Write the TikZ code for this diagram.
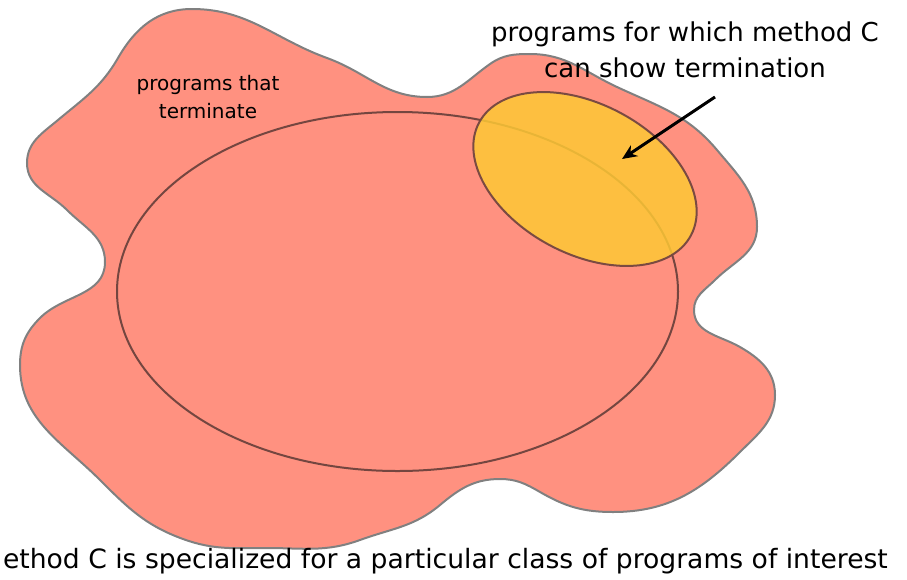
\documentclass[tikz,border=0pt]{standalone}
\usepackage{fontspec}
\setmainfont{DejaVu Sans}
\usetikzlibrary{arrows.meta}
\definecolor{salmon}{HTML}{FF9180}
\definecolor{blobline}{HTML}{808080}
\definecolor{ovalline}{HTML}{744640}
\definecolor{sunny}{RGB}{253,200,53}
\tikzset{
  blobstyle/.style={fill=salmon, draw=blobline, line width=2pt},
  bigoval/.style={draw=ovalline, line width=2pt},
  smalloval/.style={fill=sunny, fill opacity=0.85, draw=ovalline, draw opacity=0.95, line width=2pt},
  bigtext/.style={font=\fontsize{26}{36}\selectfont, inner sep=0pt, align=center},
  captiontext/.style={font=\fontsize{26.6}{36}\selectfont, inner sep=0pt},
  smalltext/.style={font=\fontsize{20}{28}\selectfont, inner sep=0pt, align=center},
  pointer/.style={-{Stealth[length=15pt,width=13pt]}, line width=3pt, black}
}
\begin{document}
\begin{tikzpicture}[x=1pt, y=-1pt]
\useasboundingbox (0,0) rectangle (907,579);
% blob: programs that terminate
\draw[blobstyle] (192,9)
 to[out=0,in=160] (327,58)
 to[out=-20,in=180] (427,97)
 to[out=0,in=215] (490,64)
 to[out=35,in=180] (530,54)
 to[out=0,in=155] (617,87)
 to[out=-25,in=130] (717,150)
 to[out=-50,in=90] (757,227)
 to[out=-90,in=45] (715,280)
 to[out=-135,in=90] (694,310)
 to[out=-90,in=150] (740,347)
 to[out=-30,in=90] (775,395)
 to[out=-90,in=45] (740,452)
 to[out=-135,in=0] (613,512)
 to[out=180,in=-30] (540,492)
 to[out=150,in=0] (500,479)
 to[out=180,in=40] (440,505)
 to[out=-140,in=20] (360,540)
 to[out=-160,in=0] (267,548)
 to[out=180,in=-20] (183,539)
 to[out=160,in=-45] (100,480)
 to[out=135,in=-90] (20,365)
 to[out=90,in=-135] (40,318)
 to[out=45,in=-90] (105,262)
 to[out=90,in=-45] (67,210)
 to[out=135,in=-90] (27,163)
 to[out=90,in=-140] (58,120)
 to[out=40,in=-120] (118,58)
 to[out=60,in=180] (192,9)
 -- cycle;
% big ellipse
\draw[bigoval] (397.5,291.5) ellipse (280.5 and 179.5);
% yellow ellipse
\begin{scope}[shift={(585,179)}, rotate=-28]
  \draw[smalloval] (0,0) ellipse (120 and 75);
\end{scope}
% texts
\node[smalltext] (terminate) at (208,97) {programs that\\terminate};
\node[bigtext] (methodc) at (685,50) {programs for which method C\\can show termination};
\node[captiontext, anchor=base east] (caption) at (888,568) {ethod C is specialized for a particular class of programs of interest};
% arrow
\coordinate (arrowfrom) at (715,97);
\coordinate (arrowto) at (622,159);
\draw[pointer] (arrowfrom) -- (arrowto);
\end{tikzpicture}
\end{document}
